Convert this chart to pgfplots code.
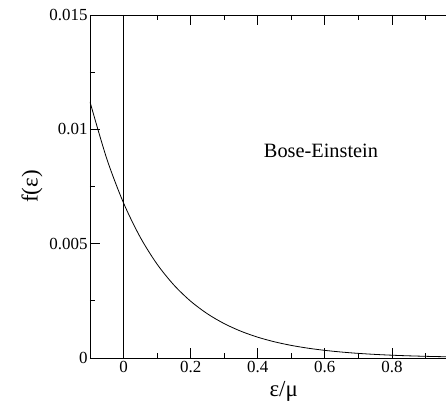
\documentclass[border=0pt]{standalone}
\usepackage{fontspec}
\setmainfont{Liberation Serif}
\usepackage{pgfplots}
\pgfplotsset{compat=1.18}
\begin{document}
\begin{tikzpicture}
\begin{axis}[
    name=ax,
    scale only axis,
    width=369bp, height=343bp,
    xmin=-0.1, xmax=1, ymin=0, ymax=0.015,
    xtick={0,0.2,0.4,0.6,0.8,1},
    xticklabels={0,0.2,0.4,0.6,0.8,{}},
    minor xtick={0.1,0.3,0.5,0.7,0.9},
    ytick={0,0.005,0.01,0.015},
    yticklabels={0,0.005,0.01,0.015},
    minor ytick={0.0025,0.0075,0.0125},
    scaled y ticks=false,
    tick align=inside,
    major tick length=10bp, minor tick length=5bp,
    every tick/.style={black, line width=0.8bp},
    axis line style={black, line width=0.8bp},
    /pgf/number format/assume math mode=true,
    tick label style={font=\fontsize{17}{20}\selectfont},
    yticklabel style={xshift=1bp},
    xlabel={ε/μ},
    xlabel style={at={(axis cs:0.4776,0)}, anchor=base, yshift=-38bp, inner sep=0pt, font=\fontsize{23}{27}\selectfont},
    ylabel={f(ε)},
    ylabel style={at={(rel axis cs:0,0.5)}, anchor=center, yshift=58bp, inner sep=0pt, font=\fontsize{23}{27}\selectfont},
]
\addplot[black, line width=0.8bp, smooth] table {
x y
-0.10 0.011200
-0.05 0.008714
0.00 0.006780
0.05 0.005275
0.10 0.004104
0.15 0.003193
0.20 0.002484
0.25 0.001933
0.30 0.001504
0.35 0.001170
0.40 0.000910
0.45 0.000708
0.50 0.000551
0.55 0.000429
0.60 0.000334
0.65 0.000260
0.70 0.000202
0.75 0.000157
0.80 0.000122
0.85 0.000095
0.90 0.000074
0.95 0.0000576
1.00 0.0000448
};
\addplot[black, line width=0.8bp] coordinates {(0,0) (0,0.015)};
\node[anchor=base west, inner sep=0pt, font=\fontsize{20.4}{24}\selectfont] at (axis cs:0.418,0.00875) {Bose-Einstein};
\end{axis}
\pgfresetboundingbox
\path[use as bounding box] ([shift={(-90bp,-43bp)}]ax.south west) rectangle ([shift={(356bp,358bp)}]ax.south west);
\end{tikzpicture}
\end{document}
